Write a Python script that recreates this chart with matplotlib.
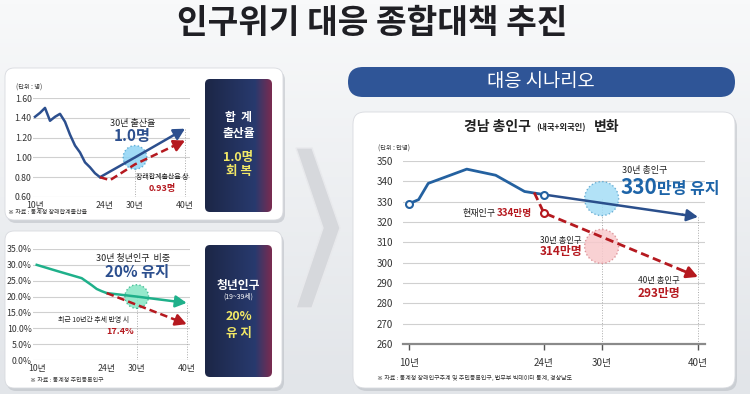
import numpy as np
import matplotlib.pyplot as plt
from matplotlib.patches import FancyBboxPatch, Polygon
from matplotlib.colors import LinearSegmentedColormap

plt.rcParams['font.family'] = ['Noto Sans CJK KR', 'DejaVu Sans']

# ---- data ----
x_ticks = [10, 24, 30, 40]
x_labels = ['10년', '24년', '30년', '40년']

# 합계출산율 (명)
tfr_years = [10, 11, 12, 13, 14, 15, 16, 17, 18, 19, 20, 21, 22, 23]
tfr = [1.41, 1.45, 1.50, 1.37, 1.41, 1.44, 1.36, 1.23, 1.12, 1.05, 0.95, 0.90, 0.84, 0.80]
tfr_goal_years = [23, 30, 40]
tfr_goal = [0.80, 1.00, 1.29]
tfr_trend_years = [23, 25, 30, 40]
tfr_trend = [0.80, 0.77, 0.93, 1.17]
tfr_yticks = [0.6, 0.8, 1.0, 1.2, 1.4, 1.6]

# 청년인구 비중 (%)
youth_years = [10, 14, 19, 21, 22, 23, 24]
youth = [30.0, 28.1, 25.8, 23.6, 22.4, 21.7, 21.1]
youth_goal_years = [24, 30, 40]
youth_goal = [21.1, 20.0, 18.0]
youth_trend_years = [24, 30, 40]
youth_trend = [21.1, 17.4, 11.3]
youth_yticks = [0, 5, 10, 15, 20, 25, 30, 35]

# 경남 총인구 (만명)
pop_years = [10, 11, 12, 16, 19, 22, 24]
pop = [329, 331, 339, 346, 343, 335, 333.5]
pop_goal_years = [24, 40]
pop_goal = [333.5, 322.5]
pop_trend_years = [23, 24, 40]
pop_trend = [334.5, 324.5, 293]
pop_yticks = [260, 270, 280, 290, 300, 310, 320, 330, 340, 350]

NAVY = '#2c4f8e'
RED = '#b5191f'
GREEN = '#1fb08a'
BLUE2 = '#2461a0'

fig = plt.figure(figsize=(7.5, 3.94), dpi=100)
fig.patch.set_facecolor('#eef0f3')
bg = fig.add_axes([0, 0, 1, 1])
bg.axis('off')
bgmap = LinearSegmentedColormap.from_list('bgm', ['#f8f9fa', '#e2e5e9'])
bg.imshow(np.linspace(0, 1, 100)[:, None], cmap=bgmap, extent=(0, 750, 394, 0), aspect='auto')


def T(x, y, s, **kw):
    kw.setdefault('ha', 'center')
    kw.setdefault('va', 'center')
    fig.text(x, y, s, transform=bg.transData, **kw)


def card(x0, y0, x1, y1, r=9):
    bg.add_patch(FancyBboxPatch((x0 + 2, y0 + 3), x1 - x0, y1 - y0,
                                boxstyle=f'round,pad=0,rounding_size={r}',
                                fc='#aeb2b9', ec='none', alpha=0.45))
    bg.add_patch(FancyBboxPatch((x0, y0), x1 - x0, y1 - y0,
                                boxstyle=f'round,pad=0,rounding_size={r}',
                                fc='white', ec='#d8dadf', lw=0.6))


darkmap = LinearSegmentedColormap.from_list(
    'dk', [(0, '#1c2646'), (0.75, '#283a6e'), (1, '#7a2b50')])


def dark_box(x0, y0, x1, y1):
    p = FancyBboxPatch((x0, y0), x1 - x0, y1 - y0,
                       boxstyle='round,pad=0,rounding_size=5', fc='none', ec='none')
    bg.add_patch(p)
    im = bg.imshow(np.linspace(0, 1, 200)[None, :], cmap=darkmap,
                   extent=(x0, x1, y1, y0), aspect='auto', zorder=3)
    im.set_clip_path(p)


card(5, 68, 283, 220)
card(5, 231, 282, 388)
card(353, 112, 735, 388, r=12)
dark_box(205, 79, 272, 212)
dark_box(205, 245, 272, 377)

# chevron
bg.add_patch(Polygon([(296, 148), (312, 148), (340, 228), (312, 308), (296, 308), (323, 228)],
                     closed=True, fc='#d6d8dc', ec='#e8e9ec', lw=1))

# header pill
bg.add_patch(FancyBboxPatch((348, 67), 387, 30, boxstyle='round,pad=0,rounding_size=15',
                            fc='#2f5597', ec='none'))
bg.set_xlim(0, 750)
bg.set_ylim(394, 0)


def px_axes(x0, y0, x1, y1):
    return fig.add_axes([x0 / 750, 1 - y1 / 394, (x1 - x0) / 750, (y1 - y0) / 394])


def setup(ax, xlim, ylim, yticks, ylabels, fs, ypad, xpad):
    ax.set_facecolor('none')
    ax.set_xlim(*xlim)
    ax.set_ylim(*ylim)
    ax.set_yticks(yticks)
    ax.set_yticklabels(ylabels)
    ax.set_xticks(x_ticks)
    ax.set_xticklabels(x_labels)
    for s in ax.spines.values():
        s.set_visible(False)
    ax.grid(axis='y', color='#d0d0d0', lw=0.8)
    ax.set_axisbelow(True)
    ax.tick_params(length=0, labelsize=fs, colors='#333333')
    ax.tick_params(axis='y', pad=ypad)
    ax.tick_params(axis='x', pad=xpad)


def arrow_line(ax, xs, ys, color, lw, ls='-', size=10):
    t = 0.1
    xe = xs[-1] - (xs[-1] - xs[-2]) * t
    ye = ys[-1] - (ys[-1] - ys[-2]) * t
    ax.plot(list(xs[:-1]) + [xe], list(ys[:-1]) + [ye], color=color, lw=lw, ls=ls,
            clip_on=False, solid_capstyle='round', zorder=4)
    ax.annotate('', xy=(xs[-1], ys[-1]), xytext=(xe, ye),
                arrowprops=dict(arrowstyle='-|>,head_length=0.6,head_width=0.32', color=color,
                                lw=lw, mutation_scale=size, shrinkA=0, shrinkB=0),
                annotation_clip=False, zorder=5)


def bubble(ax, x, y, s, fc, ec):
    ax.scatter([x], [y], s=s, fc=fc, ec=ec, lw=1, linestyle=':', zorder=3, clip_on=False, alpha=0.85)


# ---- top-left: 합계출산율 ----
ax1 = px_axes(33, 98, 190, 197)
setup(ax1, (9.6, 41), (0.6, 1.6), tfr_yticks, [f'{v:.2f}' for v in tfr_yticks], 6.3, 1, 3)
ax1.vlines([30, 40], 0.6, [tfr_goal[1], tfr_goal[2]], colors='#aaaaaa', lw=0.7, linestyles=':')
ax1.plot(tfr_years, tfr, color=NAVY, lw=1.8, zorder=4, solid_joinstyle='round')
bubble(ax1, 30, tfr_goal[1], 290, '#8fd4f5', '#4ea3cf')
arrow_line(ax1, tfr_goal_years, tfr_goal, NAVY, 1.8, size=11)
arrow_line(ax1, tfr_trend_years, tfr_trend, RED, 1.8, ls=(0, (3, 1.6)), size=11)

T(29, 88, '(단위 : 명)', fontsize=4.5, color='#333333')
T(133, 123, '30년 출산율', fontsize=6.5, color='#222222')
T(132, 136, '1.0명', fontsize=11, fontweight='bold', color=NAVY)
T(162, 177, '장래합계출산율 상', fontsize=5, color='#222222')
T(162, 188, '0.93명', fontsize=6.5, fontweight='bold', color=RED)
T(8, 212, '※ 자료 : 통계청 장래합계출산율', fontsize=4.3, color='#333333', ha='left')

T(238.5, 117, '합  계', fontsize=8.5, fontweight='bold', color='white')
T(238.5, 133, '출산율', fontsize=8.5, fontweight='bold', color='white')
T(238.5, 157, '1.0명', fontsize=9, fontweight='bold', color='#f2e866')
T(238.5, 171, '회 복', fontsize=9, fontweight='bold', color='#f2e866')

# ---- bottom-left: 청년인구 비중 ----
ax2 = px_axes(33, 249, 190, 360)
setup(ax2, (9.26, 40.66), (0, 35), youth_yticks, [f'{v:.1f}%' for v in youth_yticks], 6.3, 1, 3)
ax2.vlines([30, 40], 0, [youth_goal[1], youth_goal[2]], colors='#aaaaaa', lw=0.7, linestyles=':')
ax2.plot(youth_years, youth, color=GREEN, lw=1.8, zorder=4, solid_joinstyle='round')
bubble(ax2, 30, youth_goal[1], 290, '#84e6c4', '#34b48a')
arrow_line(ax2, youth_goal_years, youth_goal, GREEN, 1.8, size=11)
arrow_line(ax2, youth_trend_years, youth_trend, RED, 1.8, ls=(0, (3, 1.6)), size=11)

T(133, 258, '30년 청년인구  비중', fontsize=6.5, color='#222222')
T(137, 272, '20% 유지', fontsize=11, fontweight='bold', color=NAVY)
T(94, 320, '최근 10년간 추세 반영 시', fontsize=5, color='#222222')
T(120, 331, '17.4%', fontsize=6.5, fontweight='bold', color=RED)
T(30, 381, '※ 자료 : 통계청 주민등록인구', fontsize=4.3, color='#333333', ha='left')

T(238.5, 285, '청년인구', fontsize=8.5, fontweight='bold', color='white')
T(238.5, 297, '(19~39세)', fontsize=5, color='white')
T(238.5, 317, '20%', fontsize=9, fontweight='bold', color='#f2e866')
T(238.5, 333, '유 지', fontsize=9, fontweight='bold', color='#f2e866')

# ---- right: 경남 총인구 ----
ax3 = px_axes(403, 161, 705, 344)
setup(ax3, (9.38, 40.73), (260, 350), pop_yticks, [str(v) for v in pop_yticks], 7, 7, 6)
ax3.spines['bottom'].set_visible(True)
ax3.spines['bottom'].set_color('#8a8a8a')
ax3.spines['bottom'].set_linewidth(1.6)
ax3.tick_params(axis='x', length=4, width=1, color='#555555', direction='out')
ax3.vlines([30, 40], 260, [331.5, pop_goal[-1]], colors='#aaaaaa', lw=0.7, linestyles=':')
bubble(ax3, 30, 331.5, 600, '#a5ddf6', '#5aa5cf')
bubble(ax3, 30, 308, 600, '#f8c9cc', '#d98a90')
ax3.plot(pop_years, pop, color=BLUE2, lw=2, zorder=4, solid_joinstyle='round')
arrow_line(ax3, pop_goal_years, pop_goal, '#2a4f8c', 1.8, size=11)
arrow_line(ax3, pop_trend_years, pop_trend, RED, 2, ls=(0, (3, 1.6)), size=11)
ax3.plot([pop_years[0], pop_years[-1]], [pop[0], pop[-1]], ls='none', marker='o', ms=5,
         mfc='white', mec=BLUE2, mew=1.5, zorder=6, clip_on=False)
ax3.plot([pop_trend_years[1]], [pop_trend[1]], ls='none', marker='o', ms=5,
         mfc='white', mec=RED, mew=1.5, zorder=6, clip_on=False)

T(496, 213, '현재인구', fontsize=6.5, color='#222222', ha='right')
T(532, 213, '334만명', fontsize=7, fontweight='bold', color=RED, ha='right')
T(622, 170, '30년 총인구', fontsize=6.5, color='#222222', ha='left')
T(621, 187, '330', fontsize=15, fontweight='bold', color='#1d64a8', ha='left')
T(657, 189, '만명 유지', fontsize=11.5, fontweight='bold', color='#1d64a8', ha='left')
T(540, 240, '30년 총인구', fontsize=6, color='#222222', ha='left')
T(540, 252, '314만명', fontsize=8.5, fontweight='bold', color=RED, ha='left')
T(659, 280, '40년 총인구', fontsize=6, color='#222222')
T(659, 293, '293만명', fontsize=8.5, fontweight='bold', color=RED)
T(378, 149, '(단위 : 만명)', fontsize=4.5, color='#333333', ha='left')
T(377, 378, '※ 자료 : 통계청 장래인구추계 및 주민등록인구, 법무부 빅데이터 통계, 경상남도',
  fontsize=4.3, color='#333333', ha='left')

T(531, 127, '경남 총인구', fontsize=10, fontweight='bold', color='#222222', ha='right')
T(561, 128, '(내국+외국인)', fontsize=6, fontweight='bold', color='#222222')
T(594, 127, '변화', fontsize=10, fontweight='bold', color='#222222', ha='left')

# headers
T(541, 81, '대응 시나리오', fontsize=13.5, color='white')
T(372, 23, '인구위기 대응 종합대책 추진', fontsize=24, fontweight=900, color='#1f1f24')

fig.savefig('out.png', dpi=100, facecolor=fig.get_facecolor())
